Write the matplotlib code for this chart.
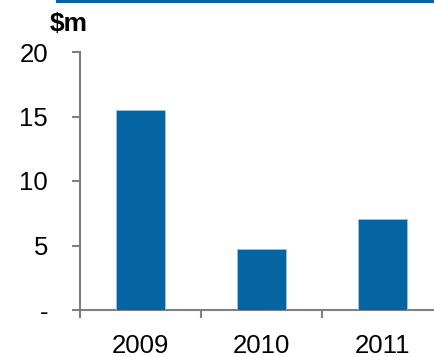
import matplotlib
matplotlib.use("Agg")
import matplotlib.pyplot as plt
from matplotlib.lines import Line2D

# data
years = ["2009", "2010", "2011"]
values = [15.5, 4.75, 7.05]
yticks = [0, 5, 10, 15, 20]
ytick_labels = ["-", "5", "10", "15", "20"]

blue = "#0565a3"
grey = "#7f7f7f"

plt.rcParams["font.family"] = ["Liberation Sans", "DejaVu Sans"]

fig = plt.figure(figsize=(4.35, 3.57), dpi=100)
ax = fig.add_axes([80 / 435, 47 / 357, 363 / 435, 258 / 357])

x = range(len(years))
ax.bar(x, values, width=0.4, color=blue, edgecolor="#9cc3de", linewidth=0.6, zorder=3)

ax.set_xlim(-0.5, 2.5)
ax.set_ylim(0, 20)
ax.set_yticks(yticks)
ax.set_yticklabels(ytick_labels, fontsize=18.5)
ax.set_xticks(list(x))
ax.set_xticklabels(years, fontsize=18.5)
ax.set_xticks([-0.5, 0.5, 1.5], minor=True)

ax.tick_params(axis="x", which="major", length=0, pad=17)
ax.tick_params(axis="x", which="minor", length=6, width=1.5, color=grey, direction="out")
ax.tick_params(axis="y", length=6, width=1.5, color=grey, pad=17)

for s in ["top", "right"]:
    ax.spines[s].set_visible(False)
for s in ["left", "bottom"]:
    ax.spines[s].set_color(grey)
    ax.spines[s].set_linewidth(1.5)
ax.spines["bottom"].set_bounds(-0.5, 2.5)

fig.text(50 / 435, 1 - 24 / 357, "$m", fontsize=19, fontweight="bold", va="center", ha="left")
fig.add_artist(Line2D([57 / 435, 1], [1 - 1.2 / 357, 1 - 1.2 / 357], color=blue, linewidth=2.2,
                      transform=fig.transFigure))

fig.savefig("out.png", dpi=100)
